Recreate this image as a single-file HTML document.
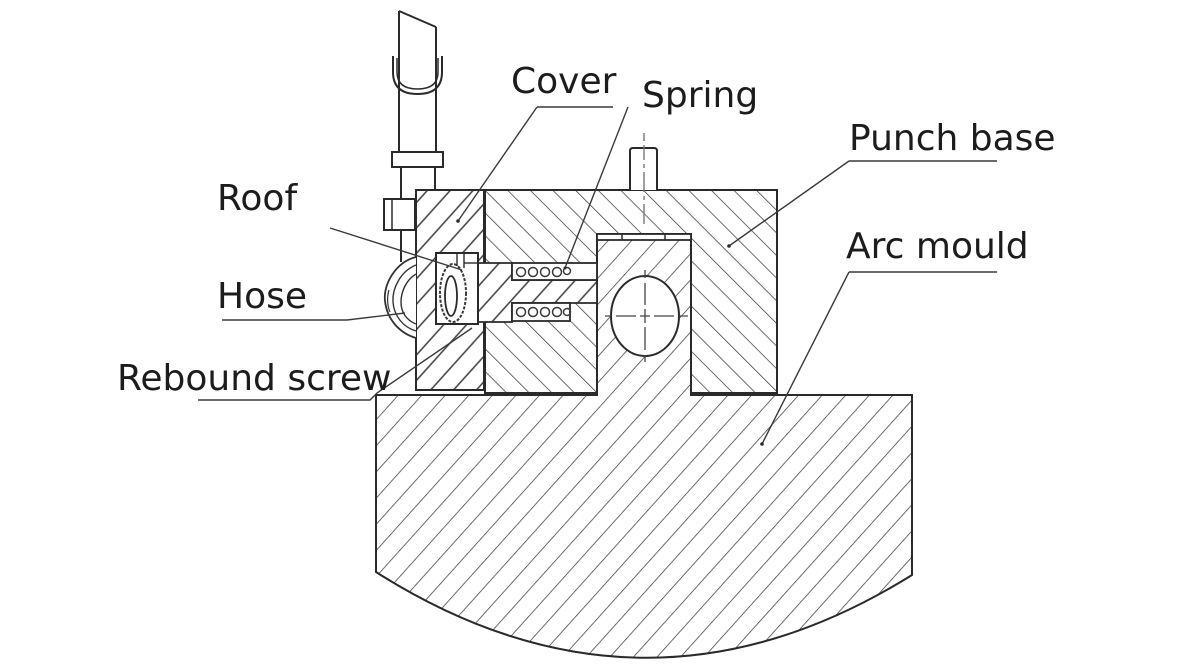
<!DOCTYPE html>
<html>
<head>
<meta charset="utf-8">
<style>
  html,body{margin:0;padding:0;background:#fff;}
  svg{display:block;}
  text{font-family:"DejaVu Sans","Liberation Sans",sans-serif;font-size:36px;fill:#1c1c1c;}
</style>
</head>
<body>
<svg width="1200" height="667" viewBox="0 0 1200 667" xmlns="http://www.w3.org/2000/svg">
  <defs>
    <pattern id="hA" patternUnits="userSpaceOnUse" width="17.5" height="40" patternTransform="rotate(42)">
      <line x1="0" y1="0" x2="0" y2="40" stroke="#3c3c3c" stroke-width="1.5"/>
    </pattern>
    <pattern id="hB" patternUnits="userSpaceOnUse" width="16" height="40" patternTransform="rotate(-45)">
      <line x1="0" y1="0" x2="0" y2="40" stroke="#3c3c3c" stroke-width="1.5"/>
    </pattern>
    <pattern id="hC" patternUnits="userSpaceOnUse" width="17" height="40" patternTransform="rotate(42)">
      <line x1="3" y1="0" x2="3" y2="40" stroke="#3c3c3c" stroke-width="1.5"/>
    </pattern>
  </defs>

  <rect x="0" y="0" width="1200" height="667" fill="#fff"/>

  <!-- Arc mould -->
  <path d="M376,395 H597 V234 H691 V395 H912 V575 Q644,742 376,572 Z" fill="url(#hA)" stroke="#2a2a2a" stroke-width="2"/>

  <!-- Punch base -->
  <path d="M485,190 H777 V393 H691 V234 H597 V393 H485 Z" fill="#fff" stroke="none"/>
  <path d="M485,190 H777 V393 H691 V234 H597 V393 H485 Z" fill="url(#hB)" stroke="#2a2a2a" stroke-width="2"/>

  <!-- Cover -->
  <rect x="416" y="190" width="68" height="200" fill="#fff"/>
  <rect x="416" y="190" width="68" height="200" fill="url(#hC)" stroke="#2a2a2a" stroke-width="2"/>

  <!-- Plunger -->
  <path d="M476,263 H512 V280 H597 V303 H512 V322 H476 Z" fill="#fff"/>
  <path d="M476,263 H512 V280 H597 V303 H512 V322 H476 Z" fill="url(#hC)" stroke="#2a2a2a" stroke-width="1.8"/>

  <!-- Spring pockets -->
  <rect x="512" y="263" width="85" height="17" fill="#fff" stroke="#2a2a2a" stroke-width="1.8"/>
  <rect x="512" y="303" width="58" height="18" fill="#fff" stroke="#2a2a2a" stroke-width="1.8"/>
  <g fill="none" stroke="#3a3a3a" stroke-width="1.5">
    <circle cx="521" cy="272" r="4.5"/><circle cx="533" cy="272" r="4.5"/><circle cx="545" cy="272" r="4.5"/><circle cx="557" cy="272" r="4.5"/><circle cx="567" cy="271" r="3.5"/>
    <circle cx="521" cy="312" r="4.5"/><circle cx="533" cy="312" r="4.5"/><circle cx="545" cy="312" r="4.5"/><circle cx="557" cy="312" r="4.5"/><circle cx="567" cy="312" r="3.5"/>
  </g>

  <!-- Rebound screw box -->
  <rect x="436" y="253" width="42" height="71" fill="#fff" stroke="#2a2a2a" stroke-width="2"/>
  <ellipse cx="453" cy="293" rx="13" ry="29" fill="none" stroke="#3a3a3a" stroke-width="2" stroke-dasharray="3 1.5"/>
  <ellipse cx="451" cy="296" rx="6" ry="20" fill="none" stroke="#2a2a2a" stroke-width="1.8"/>
  <line x1="457" y1="253" x2="457" y2="266" stroke="#2a2a2a" stroke-width="1.4"/>
  <line x1="464" y1="253" x2="464" y2="268" stroke="#2a2a2a" stroke-width="1.4"/>
  <line x1="464" y1="263" x2="478" y2="263" stroke="#2a2a2a" stroke-width="1.4"/>

  <!-- Center block top plate -->
  <rect x="597" y="234" width="94" height="6" fill="#fff" stroke="#2a2a2a" stroke-width="1.8"/>
  <line x1="622" y1="234" x2="622" y2="240" stroke="#2a2a2a" stroke-width="1.5"/>
  <line x1="665" y1="234" x2="665" y2="240" stroke="#2a2a2a" stroke-width="1.5"/>

  <!-- Circle in center block -->
  <ellipse cx="645" cy="316" rx="34" ry="40" fill="#fff" stroke="#2a2a2a" stroke-width="2"/>
  <g stroke="#444" stroke-width="1.3" fill="none">
    <path d="M605,316 H611 M616,316 H636 M640,316 H650 M654,316 H674 M679,316 H688"/>
    <path d="M645,270 V278 M645,283 V305 M645,309 V323 M645,327 V350 M645,355 V362"/>
  </g>

  <!-- Pin -->
  <path d="M630,190 V151 Q630,148 633,148 H654 Q657,148 657,151 V190" fill="#fff" stroke="#2a2a2a" stroke-width="2"/>
  <path d="M644,133 V141 M644,145 V160 M644,164 V168 M644,172 V192 M644,196 V200 M644,204 V224" stroke="#777" stroke-width="1.4"/>

  <!-- Pipe -->
  <g fill="none" stroke="#2a2a2a" stroke-width="2">
    <line x1="399" y1="11" x2="399" y2="152"/>
    <line x1="436" y1="27" x2="436" y2="152"/>
    <line x1="399" y1="11" x2="436" y2="27"/>
    <path d="M393,56 V72 Q393,94 417.5,94 Q442,94 442,72 V56"/>
    <path d="M397,58 V72 Q397,89 417.5,89 Q438,89 438,72 V58" stroke-width="1.5"/>
    <rect x="392" y="152" width="51" height="15" fill="#fff"/>
    <line x1="401" y1="167" x2="401" y2="199"/>
    <line x1="435" y1="167" x2="435" y2="190"/>
    <rect x="384" y="199" width="31" height="31" fill="#fff"/>
    <line x1="392" y1="199" x2="392" y2="230" stroke-width="1.5"/>
    <line x1="401" y1="230" x2="401" y2="262"/>
  </g>

  <!-- Hose -->
  <g fill="none" stroke="#333" stroke-width="1.8">
    <path d="M416,257 C396,262 383,284 385,301 C387,319 399,333 416,338" fill="#fff"/>
    <path d="M416,265 C401,271 392,288 393,302 C394,316 403,327 416,331" stroke-width="1.4"/>
    <path d="M416,274 C406,280 401,292 401,302 C401,312 406,320 416,324" stroke-width="1.4"/>
    <path d="M389,290 C387,296 387,306 390,312" stroke-width="1.2"/>
  </g>

  <!-- Leader lines -->
  <g stroke="#3a3a3a" stroke-width="1.4" fill="none">
    <line x1="537" y1="107" x2="613" y2="107"/>
    <line x1="537" y1="107" x2="458" y2="221"/>
    <line x1="628" y1="107" x2="565" y2="268"/>
    <line x1="849" y1="161" x2="997" y2="161"/>
    <line x1="849" y1="161" x2="729" y2="246"/>
    <line x1="849" y1="272" x2="997" y2="272"/>
    <line x1="849" y1="272" x2="762" y2="444"/>
    <line x1="330" y1="228" x2="462" y2="270"/>
    <polyline points="222,320 347,320 405,313"/>
    <polyline points="198,400 370,400 377,393 472,328"/>
  </g>
  <g fill="#2a2a2a">
    <circle cx="458" cy="221" r="1.8"/>
    <circle cx="729" cy="246" r="1.8"/>
    <circle cx="762" cy="444" r="1.8"/>
    <circle cx="565" cy="268" r="1.5"/>
  </g>

  <!-- Labels -->
  <text x="511" y="93">Cover</text>
  <text x="642" y="107">Spring</text>
  <text x="849" y="150">Punch base</text>
  <text x="846" y="258">Arc mould</text>
  <text x="217" y="210">Roof</text>
  <text x="217" y="308">Hose</text>
  <text x="117" y="390">Rebound screw</text>
</svg>
</body>
</html>
